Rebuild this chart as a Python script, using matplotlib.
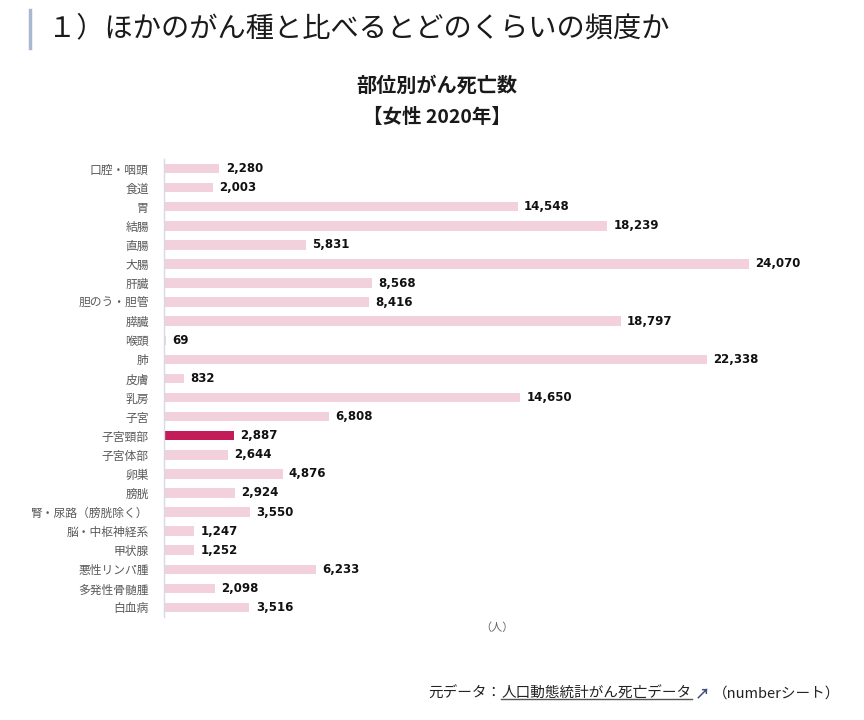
import matplotlib
matplotlib.use('Agg')
import matplotlib.pyplot as plt
import numpy as np

plt.rcParams['font.family'] = ['Noto Sans CJK JP', 'DejaVu Sans']

# data (female cancer deaths by site, 2020)
sites = ['口腔・咽頭', '食道', '胃', '結腸', '直腸', '大腸', '肝臓', '胆のう・胆管',
         '膵臓', '喉頭', '肺', '皮膚', '乳房', '子宮', '子宮頸部', '子宮体部', '卵巣',
         '膀胱', '腎・尿路（膀胱除く）', '脳・中枢神経系', '甲状腺', '悪性リンパ腫',
         '多発性骨髄腫', '白血病']
deaths = [2280, 2003, 14548, 18239, 5831, 24070, 8568, 8416,
          18797, 69, 22338, 832, 14650, 6808, 2887, 2644, 4876,
          2924, 3550, 1247, 1252, 6233, 2098, 3516]
highlight = '子宮頸部'

page_title = '１）ほかのがん種と比べるとどのくらいの頻度か'
chart_title = '部位別がん死亡数'
chart_subtitle = '【女性 2020年】'
unit_label = '（人）'

PINK = '#f2d0dc'
HIGHLIGHT = '#c21d58'

fig = plt.figure(figsize=(8.64, 7.2), dpi=100)
W, H = 864, 720

# header
fig.add_artist(plt.Line2D([30 / W, 30 / W], [1 - 10 / H, 1 - 48 / H],
                          color='#aab8cf', linewidth=2.5))
fig.text(48 / W, 1 - 28 / H, page_title, fontsize=20.3, va='center', ha='left',
         color='#1a1a1a', fontweight='normal')

fig.text(437 / W, 1 - 85 / H, chart_title, fontsize=14.5, fontweight='bold',
         ha='center', va='center', color='#1a1a1a')
fig.text(437 / W, 1 - 117 / H, chart_subtitle, fontsize=14, fontweight='bold',
         ha='center', va='center', color='#1a1a1a')

# bar chart
ax = fig.add_axes([164 / W, 1 - 617 / H, (830 - 164) / W, (617 - 159) / H])
y = np.arange(len(sites))
colors = [HIGHLIGHT if s == highlight else PINK for s in sites]
ax.barh(y, deaths, height=0.5, color=colors)
ax.set_ylim(len(sites) - 0.5, -0.5)
ax.set_xlim(0, 27400)
ax.set_yticks(y)
ax.set_yticklabels(sites, fontsize=8.5, color='#5a5a5a')
ax.tick_params(axis='y', length=0, pad=11)
ax.set_xticks([])
for side in ['top', 'right', 'bottom']:
    ax.spines[side].set_visible(False)
ax.spines['left'].set_color('#d3dbea')
ax.spines['left'].set_linewidth(1)

for yi, v in zip(y, deaths):
    ax.annotate(f'{v:,}', (v, yi), xytext=(4.5, 0), textcoords='offset points',
                ha='left', va='center', fontsize=8.5, fontweight='bold',
                color='#111111', family='DejaVu Sans')

fig.text(497 / W, 1 - 628 / H, unit_label, fontsize=8, ha='center',
         va='center', color='#666666')

# footer: source line with underlined link
renderer = fig.canvas.get_renderer()
fy = 1 - 694 / H
x_right = 840
pieces = [('（numberシート）', '#222222', False),
          (' ↗ ', '#3b4a7a', False),
          ('人口動態統計がん死亡データ', '#222222', True),
          ('元データ：', '#222222', False)]
for txt, col, underline in pieces:
    t = fig.text(x_right / W, fy, txt, fontsize=10.5, ha='right', va='center',
                 color=col, fontweight='bold' if txt.strip() == '↗' else 'normal')
    bb = t.get_window_extent(renderer)
    if underline:
        fig.add_artist(plt.Line2D([bb.x0 / W, bb.x1 / W],
                                  [(bb.y0 + 2) / H, (bb.y0 + 2) / H],
                                  color='#555555', linewidth=1))
    x_right = bb.x0

fig.savefig('out.png', dpi=100)
